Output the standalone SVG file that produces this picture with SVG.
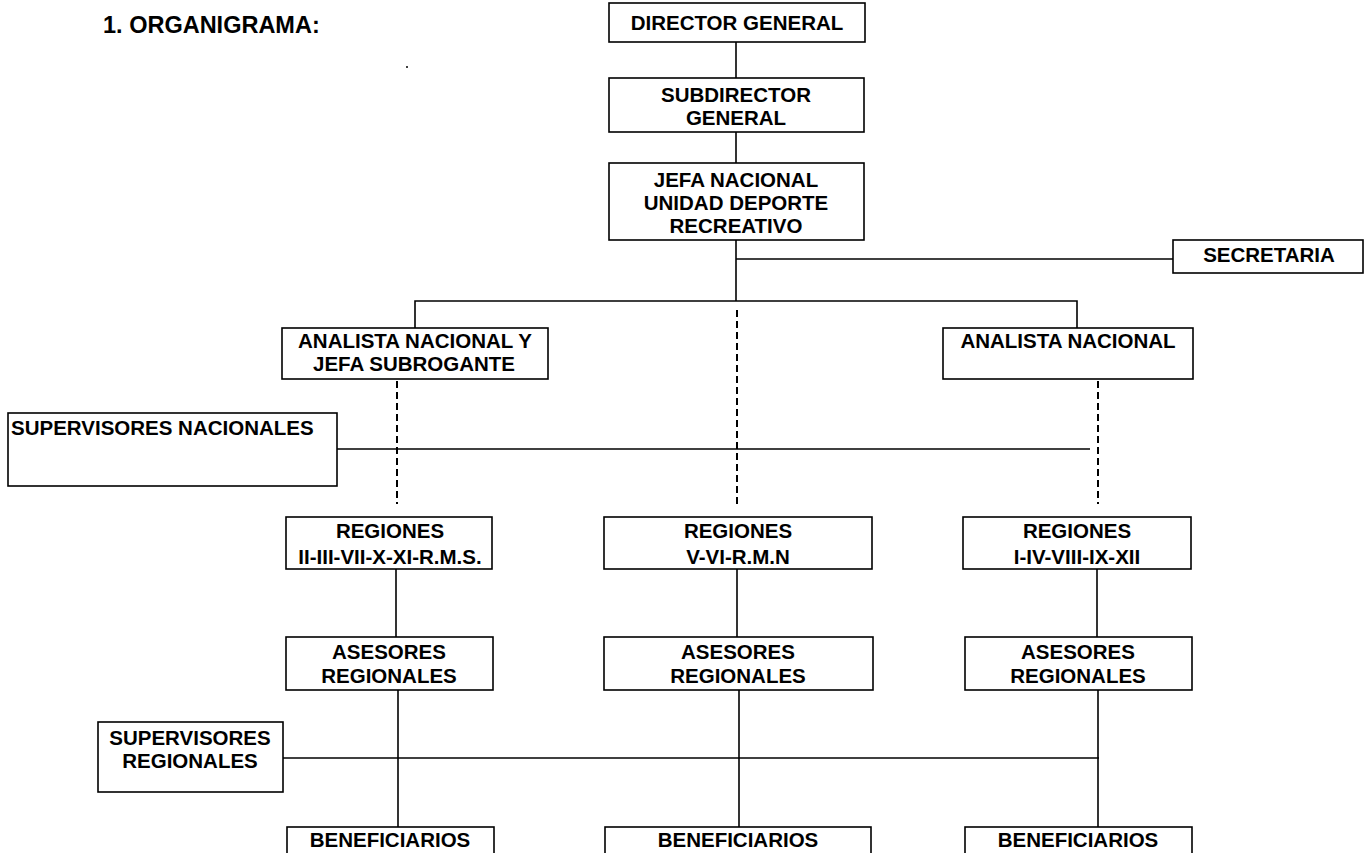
<svg xmlns="http://www.w3.org/2000/svg" width="1366" height="853" viewBox="0 0 1366 853">
<style>
.box{fill:#fff;stroke:#000;stroke-width:1.6}
.t{font-family:"Liberation Sans",Arial,sans-serif;font-weight:bold;font-size:20.5px;fill:#000;text-anchor:middle}
.ts{text-anchor:start}
.l{stroke:#000;stroke-width:1.6;fill:none}
.d{stroke:#000;stroke-width:2;fill:none;stroke-dasharray:7 4}
</style>
<rect width="1366" height="853" fill="#fff"/>
<text x="103" y="33" font-family="Liberation Sans,Arial,sans-serif" font-weight="bold" font-size="23.5" fill="#000">1. ORGANIGRAMA:</text>
<circle cx="407" cy="67" r="1" fill="#000"/>
<g id="connectors">
<line class="l" x1="736" y1="42" x2="736" y2="78"/>
<line class="l" x1="736" y1="132" x2="736" y2="163"/>
<line class="l" x1="736" y1="240" x2="736" y2="301"/>
<line class="l" x1="736" y1="259" x2="1173" y2="259" stroke-width="2"/>
<polyline class="l" points="415,328 415,301 1077,301 1077,328"/>
<line class="d" x1="737" y1="310" x2="737" y2="504"/>
<line class="d" x1="397" y1="370" x2="397" y2="504"/>
<line class="d" x1="1098" y1="370" x2="1098" y2="504"/>
<line class="l" x1="337" y1="449" x2="1090" y2="449"/>
<line class="l" x1="396" y1="569" x2="396" y2="637"/>
<line class="l" x1="737" y1="569" x2="737" y2="637"/>
<line class="l" x1="1097" y1="569" x2="1097" y2="637"/>
<line class="l" x1="398" y1="690" x2="398" y2="827"/>
<line class="l" x1="739" y1="690" x2="739" y2="827"/>
<line class="l" x1="1098" y1="690" x2="1098" y2="827"/>
<line class="l" x1="283" y1="758" x2="1099" y2="758" stroke-width="2"/>
</g>
<g id="director"><rect class="box" x="609" y="3" width="256" height="39"/><text class="t" x="737" y="30">DIRECTOR GENERAL</text></g>
<g id="subdirector"><rect class="box" x="609" y="78" width="255" height="54"/><text class="t" x="736" y="102">SUBDIRECTOR</text><text class="t" x="736" y="125">GENERAL</text></g>
<g id="jefa"><rect class="box" x="609" y="163" width="255" height="77"/><text class="t" x="736" y="187">JEFA NACIONAL</text><text class="t" x="736" y="210">UNIDAD DEPORTE</text><text class="t" x="736" y="233">RECREATIVO</text></g>
<g id="secretaria"><rect class="box" x="1173" y="240" width="190" height="33"/><text class="t" x="1269" y="262">SECRETARIA</text></g>
<g id="analista1"><rect class="box" x="282" y="328" width="266" height="51"/><text class="t" x="415" y="348">ANALISTA NACIONAL Y</text><text class="t" x="414" y="371">JEFA SUBROGANTE</text></g>
<g id="analista2"><rect class="box" x="943" y="328" width="250" height="51"/><text class="t" x="1068" y="348">ANALISTA NACIONAL</text></g>
<g id="supnac"><rect class="box" x="8" y="413" width="329" height="73"/><text class="t ts" x="11" y="435">SUPERVISORES NACIONALES</text></g>
<g id="reg1"><rect class="box" x="286" y="517" width="206" height="52"/><text class="t" x="390" y="538">REGIONES</text><text class="t" x="390" y="564">II-III-VII-X-XI-R.M.S.</text></g>
<g id="reg2"><rect class="box" x="604" y="517" width="268" height="52"/><text class="t" x="738" y="538">REGIONES</text><text class="t" x="738" y="564">V-VI-R.M.N</text></g>
<g id="reg3"><rect class="box" x="963" y="517" width="228" height="52"/><text class="t" x="1077" y="538">REGIONES</text><text class="t" x="1077" y="564">I-IV-VIII-IX-XII</text></g>
<g id="ase1"><rect class="box" x="286" y="637" width="207" height="53"/><text class="t" x="389" y="659">ASESORES</text><text class="t" x="389" y="683">REGIONALES</text></g>
<g id="ase2"><rect class="box" x="604" y="637" width="269" height="53"/><text class="t" x="738" y="659">ASESORES</text><text class="t" x="738" y="683">REGIONALES</text></g>
<g id="ase3"><rect class="box" x="965" y="637" width="227" height="53"/><text class="t" x="1078" y="659">ASESORES</text><text class="t" x="1078" y="683">REGIONALES</text></g>
<g id="supreg"><rect class="box" x="98" y="722" width="185" height="70"/><text class="t" x="190" y="745">SUPERVISORES</text><text class="t" x="190" y="768">REGIONALES</text></g>
<g id="ben1"><rect class="box" x="287" y="827" width="207" height="40"/><text class="t" x="390" y="847">BENEFICIARIOS</text></g>
<g id="ben2"><rect class="box" x="605" y="827" width="266" height="40"/><text class="t" x="738" y="847">BENEFICIARIOS</text></g>
<g id="ben3"><rect class="box" x="965" y="827" width="227" height="40"/><text class="t" x="1078" y="847">BENEFICIARIOS</text></g>
</svg>
